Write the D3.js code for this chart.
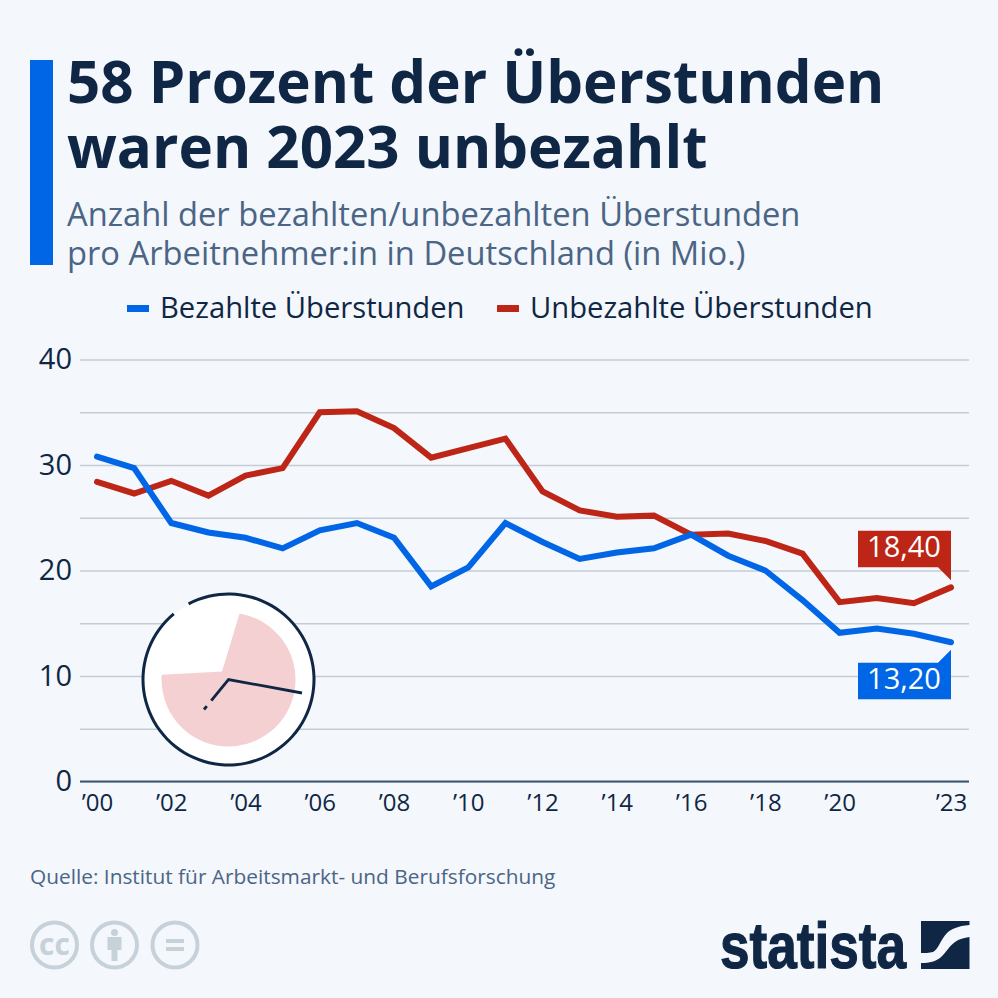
<!DOCTYPE html>
<html>
<head>
<meta charset="utf-8">
<script src="https://cdn.jsdelivr.net/npm/d3@7"></script>
<style>
  html, body { margin: 0; padding: 0; background: #f4f7fb; }
  svg { display: block; }
  text { font-family: "Open Sans", "Noto Sans", sans-serif; }
</style>
</head>
<body>
<div id="chart"></div>
<script>
const years = d3.range(2000, 2024);
const paid = [30.8, 29.7, 24.5, 23.6, 23.1, 22.1, 23.8, 24.5, 23.1, 18.5, 20.3, 24.5, 22.7, 21.1, 21.7, 22.1, 23.4, 21.4, 20.0, 17.2, 14.1, 14.5, 14.0, 13.2];
const unpaid = [28.4, 27.3, 28.5, 27.1, 29.0, 29.7, 35.0, 35.1, 33.5, 30.7, 31.6, 32.5, 27.5, 25.7, 25.1, 25.2, 23.4, 23.5, 22.8, 21.6, 17.0, 17.4, 16.9, 18.4];
const yTicks = [0, 5, 10, 15, 20, 25, 30, 35, 40];
const yLabels = [0, 10, 20, 30, 40];
const xLabels = [2000, 2002, 2004, 2006, 2008, 2010, 2012, 2014, 2016, 2018, 2020, 2023];
const seriesNames = ["Bezahlte Überstunden", "Unbezahlte Überstunden"];
const titleLines = ["58 Prozent der Überstunden", "waren 2023 unbezahlt"];
const subtitleLines = ["Anzahl der bezahlten/unbezahlten Überstunden", "pro Arbeitnehmer:in in Deutschland (in Mio.)"];

const navy = "#0f2744", blue = "#0066e6", red = "#bd2617", slate = "#4a6585", grid = "#c6ccd5";

const svg = d3.select("#chart").append("svg").attr("width", 998).attr("height", 998);

let x = d3.scaleLinear().domain([2000, 2023]).range([97, 951]);
let y = d3.scaleLinear().domain([0, 40]).range([781.5, 359.5]);

// header
svg.append("rect").attr("x", 30).attr("y", 60).attr("width", 23).attr("height", 205).style("fill", blue);
titleLines.forEach(function(d, i) {
  svg.append("text").text(d).attr("x", 67).attr("y", 103 + i * 65)
    .style("font-size", "58.25px").style("font-weight", 700).style("fill", navy);
});
subtitleLines.forEach(function(d, i) {
  svg.append("text").text(d).attr("x", 67).attr("y", 225.5 + i * 39.5)
    .style("font-size", "32.7px").style("fill", slate);
});

// legend
let legendX = [127, 497];
seriesNames.forEach(function(d, i) {
  svg.append("rect").attr("x", legendX[i]).attr("y", 305).attr("width", 22).attr("height", 7)
    .style("fill", i == 0 ? blue : red);
  svg.append("text").text(d).attr("x", legendX[i] + 33).attr("y", 318)
    .style("font-size", "29.2px").style("fill", navy);
});

// axes
let yaxis = d3.axisLeft(y).tickValues(yTicks).tickSize(-889)
  .tickFormat(d => yLabels.includes(d) ? d : "");
svg.append("g").attr("transform", "translate(80,0)").call(yaxis)
  .call(g => g.select(".domain").remove())
  .call(g => g.selectAll("line").style("stroke", grid).style("stroke-width", 1.6))
  .call(g => g.selectAll("text").attr("x", -8).style("font-family", "'Open Sans'").style("font-size", "29px").style("fill", navy));

let xaxis = d3.axisBottom(x).tickValues(years).tickSize(0)
  .tickFormat(d => xLabels.includes(d) ? "’" + String(d).slice(2) : "");
svg.append("g").attr("transform", "translate(0,781.5)").call(xaxis)
  .call(g => g.select(".domain").remove())
  .call(g => g.selectAll("text").attr("y", 12).style("font-family", "'Open Sans'").style("font-size", "24px").style("fill", navy));

svg.append("line").attr("x1", 80).attr("x2", 969).attr("y1", y(0)).attr("y2", y(0))
  .style("stroke", "#3d5670").style("stroke-width", 2);

// clock icon
let cx = 228.5, cy = 679.5;
let clock = svg.append("g").attr("class", "g-clock");
clock.append("circle").attr("cx", cx).attr("cy", cy).attr("r", 85).style("fill", "#fff");
clock.append("path").attr("transform", `translate(${cx},${cy})`)
  .attr("d", d3.arc().innerRadius(84).outerRadius(87)
    .startAngle(-27.8 * Math.PI / 180).endAngle(320.2 * Math.PI / 180)())
  .style("fill", navy);
let pie = d3.path();
pie.moveTo(cx - 6.5, cy - 8);
pie.lineTo(cx + d3.pointRadial(9.5 * Math.PI / 180, 67)[0], cy + d3.pointRadial(9.5 * Math.PI / 180, 67)[1]);
pie.arc(cx, cy, 67, (9.5 - 90) * Math.PI / 180, (274 - 90) * Math.PI / 180);
pie.closePath();
clock.append("path").attr("d", pie.toString()).style("fill", "#f5d0d3");
clock.append("path").attr("d", d3.line()([[cx + 73.5, cy + 13.5], [cx, cy], [cx - 24.5, cy + 30]]))
  .style("fill", "none").style("stroke", navy).style("stroke-width", 2.8)
  .style("stroke-dasharray", "102 7 5 100");

// lines
let line = d3.line().x((d, i) => x(years[i])).y(d => y(d));
[unpaid, paid].forEach(function(s, i) {
  svg.append("path").attr("d", line(s))
    .style("fill", "none").style("stroke", i == 0 ? red : blue)
    .style("stroke-width", 6).style("stroke-linecap", "round").style("stroke-linejoin", "miter");
});

// end labels
let last = years.length - 1;
let labelW = 93, labelH = 36.5;
function endLabel(v, color, above) {
  let px = x(years[last]), py = y(v);
  let top = above ? py - 56.7 : py + 20.5;
  let g = svg.append("g");
  let pts = above
    ? [[px - labelW, top], [px, top], [px, top + labelH + 13], [px - 13, top + labelH], [px - labelW, top + labelH]]
    : [[px - labelW, top], [px - 13, top], [px, top - 13], [px, top + labelH], [px - labelW, top + labelH]];
  g.append("path").attr("d", d3.line()(pts) + "Z").style("fill", color);
  g.append("text").text(String(v.toFixed(2)).replace(".", ","))
    .attr("x", px - labelW / 2 - 0.5).attr("y", top + 26.5).attr("text-anchor", "middle")
    .style("font-size", "29px").style("font-weight", 500).style("fill", "#fff");
}
endLabel(unpaid[last], red, true);
endLabel(paid[last], blue, false);

// footer
svg.append("text").text("Quelle: Institut für Arbeitsmarkt- und Berufsforschung")
  .attr("x", 30).attr("y", 884).style("font-size", "20.85px").style("fill", slate);

let ccColor = "#c6d1da";
[54.5, 114.5, 175].forEach(function(cxx, i) {
  let g = svg.append("g").attr("transform", `translate(${cxx},945)`);
  g.append("circle").attr("r", 22.5).style("fill", "none").style("stroke", ccColor).style("stroke-width", 4);
  if (i == 0) {
    g.append("text").text("cc").attr("text-anchor", "middle").attr("y", 9.5)
      .style("font-size", "30px").style("font-weight", 700).style("fill", ccColor);
  } else if (i == 1) {
    g.append("circle").attr("cy", -12.5).attr("r", 3.5).style("fill", ccColor);
    g.append("path").attr("d", "M-7,-8H7V5H3V16H-3V5H-7Z").style("fill", ccColor);
  } else {
    g.append("rect").attr("x", -9).attr("y", -6).attr("width", 18).attr("height", 4).style("fill", ccColor);
    g.append("rect").attr("x", -9).attr("y", 2).attr("width", 18).attr("height", 4).style("fill", ccColor);
  }
});

// logo
svg.append("text").text("statista").attr("x", 720).attr("y", 968)
  .attr("textLength", 186).attr("lengthAdjust", "spacingAndGlyphs")
  .style("font-family", "'Liberation Sans Narrow', 'Liberation Sans', sans-serif")
  .style("font-size", "64px").style("font-weight", 700)
  .style("fill", navy).style("stroke", navy).style("stroke-width", 1.2);
svg.append("path")
  .attr("d", "M921,921H969.5V925C958,926 951,929 947,933C941,939 938,950 933,952C929,953 925,953 921,953Z M969.5,937V969H921V963C930,963 936,961 940,958C946,953 949,946 955,942C959,939 964,938 969.5,937Z")
  .style("fill", navy);
</script>
</body>
</html>
